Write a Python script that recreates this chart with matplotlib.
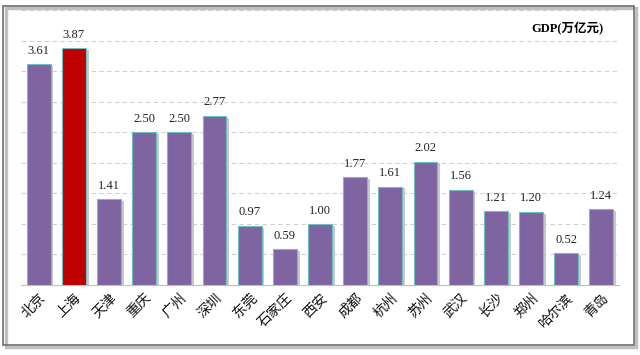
import matplotlib
matplotlib.use("Agg")
import matplotlib.pyplot as plt
from matplotlib.patches import Rectangle
import numpy as np

plt.rcParams['font.family'] = ['Noto Sans CJK SC', 'DejaVu Sans']

cities = ['北京', '上海', '天津', '重庆', '广州', '深圳', '东莞', '石家庄', '西安',
          '成都', '杭州', '苏州', '武汉', '长沙', '郑州', '哈尔滨', '青岛']
gdp = [3.61, 3.87, 1.41, 2.50, 2.50, 2.77, 0.97, 0.59, 1.00,
       1.77, 1.61, 2.02, 1.56, 1.21, 1.20, 0.52, 1.24]
highlight = '上海'

fig = plt.figure(figsize=(6.4, 3.55), dpi=100)
ax = fig.add_axes([0.033, 0.197, 0.934, 0.775])

x = np.arange(len(cities))
colors = ['#C00000' if c == highlight else '#8064A2' for c in cities]

# soft shadow behind each bar
ax.bar(x + 0.08, np.array(gdp) - 0.03, width=0.68, color='#C8C8C8', zorder=2)
ax.bar(x, gdp, width=0.68, color=colors, edgecolor='#6FBFC0', linewidth=0.8, zorder=3)

for xi, v in zip(x, gdp):
    ax.text(xi, v + 0.12, f'{v:.2f}', ha='center', va='bottom',
            fontsize=9, family='Liberation Serif', color='#222222')

ax.set_xlim(-0.5, 16.5)
ax.set_ylim(0, 4.5)
ax.set_yticks(np.arange(0.5, 4.51, 0.5))
ax.yaxis.grid(True, linestyle=(0, (4, 3)), color='#D0D0D0', linewidth=0.8, zorder=0)
ax.tick_params(axis='y', left=False, labelleft=False)
ax.tick_params(axis='x', length=0, pad=4)
ax.set_xticks(x)
ax.set_xticklabels(cities, rotation=45, ha='right', rotation_mode='anchor',
                   fontsize=10, color='#111111')
for s in ['top', 'right', 'left']:
    ax.spines[s].set_visible(False)
ax.spines['bottom'].set_color('#BFBFBF')

ax.text(0.975, 0.93, 'GDP(万亿元)', transform=ax.transAxes, ha='right', va='center',
        fontsize=9, fontweight='bold', family=['Liberation Serif', 'Noto Sans CJK SC'])

# outer frame with shadow
fig.patches.append(Rectangle((0.009, 0.022), 0.985, 0.955, transform=fig.transFigure,
                             fill=False, edgecolor='#C0C0C0', linewidth=2.5, zorder=0))
fig.patches.append(Rectangle((0.005, 0.028), 0.985, 0.955, transform=fig.transFigure,
                             fill=False, edgecolor='#6E6E6E', linewidth=1.2, zorder=1))

fig.savefig('out.png', dpi=100)
